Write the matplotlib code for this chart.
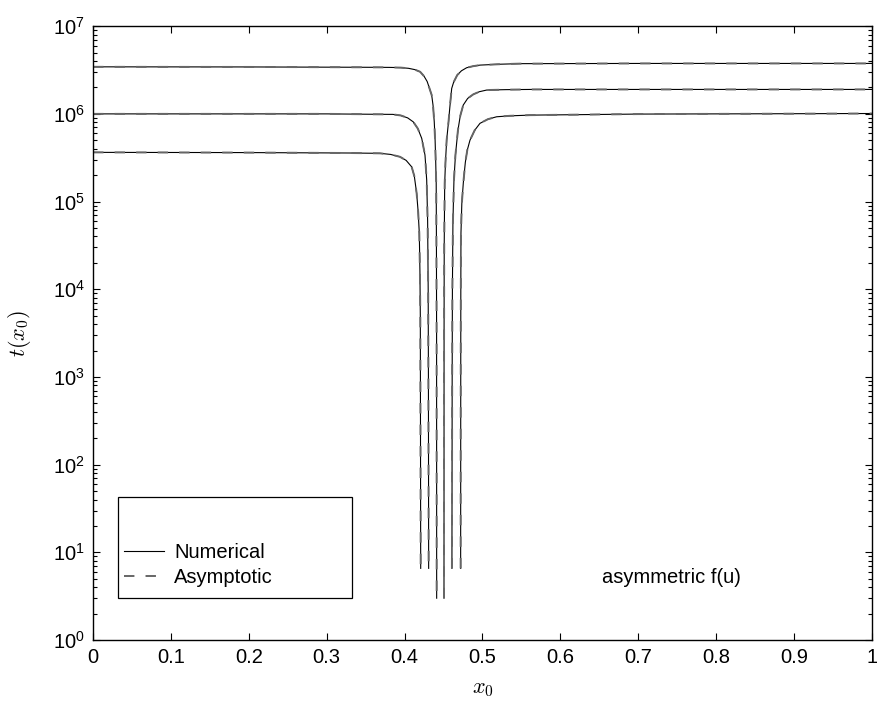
import matplotlib
matplotlib.use('Agg')
import matplotlib.pyplot as plt
from matplotlib.patches import Rectangle
from matplotlib.ticker import LogLocator, FixedLocator, NullFormatter

plt.rcParams['font.family'] = ['Liberation Sans', 'DejaVu Sans']
plt.rcParams['mathtext.fontset'] = 'custom'
plt.rcParams['mathtext.rm'] = 'Liberation Sans'
plt.rcParams['mathtext.it'] = 'Liberation Sans:italic'
plt.rcParams['lines.scale_dashes'] = False

# values, one list pair per branch
# top curve (innermost dip)
x_top_left = [0.0, 0.2, 0.35, 0.38, 0.395, 0.405, 0.413, 0.420, 0.425, 0.429, 0.432, 0.4348,
              0.4365, 0.4381, 0.4392, 0.4400, 0.4406, 0.4409, 0.4411, 0.4412]
t_top_left = [3.44e6, 3.43e6, 3.40e6, 3.39e6, 3.37e6, 3.31e6, 3.20e6, 3.02e6, 2.69e6, 2.34e6,
              1.95e6, 1.64e6, 1.26e6, 8.1e5, 5.0e5, 2.8e5, 1.6e5, 3.2e4, 3.2e3, 3.0]
x_top_right = [0.4506, 0.4507, 0.4509, 0.4515, 0.4525, 0.4540, 0.4564, 0.4585, 0.4605, 0.463,
               0.4676, 0.473, 0.4797, 0.488, 0.4968, 0.52, 0.548, 0.7, 1.0]
t_top_right = [3.0, 3.2e3, 3.2e4, 1.6e5, 2.8e5, 5.0e5, 8.1e5, 1.3e6, 1.95e6, 2.3e6,
               2.77e6, 3.1e6, 3.36e6, 3.50e6, 3.60e6, 3.68e6, 3.74e6, 3.76e6, 3.76e6]

# middle curve
x_mid_left = [0.0, 0.3, 0.36, 0.385, 0.395, 0.404, 0.4112, 0.4170, 0.4220, 0.4262, 0.4284,
              0.4296, 0.4303, 0.4306, 0.4309]
t_mid_left = [1.0e6, 1.0e6, 9.9e5, 9.87e5, 9.6e5, 9.0e5, 8.1e5, 6.8e5, 5.26e5, 3.39e5, 1.76e5,
              6.0e4, 1.0e4, 1.0e3, 6.57]
x_mid_right = [0.4608, 0.4611, 0.4614, 0.4621, 0.4634, 0.4653, 0.4685, 0.4715, 0.4753, 0.481,
               0.4882, 0.496, 0.5054, 0.53, 0.561, 1.0]
t_mid_right = [6.57, 1.0e3, 1.0e4, 6.0e4, 1.76e5, 3.39e5, 6.5e5, 9.5e5, 1.26e6, 1.50e6,
               1.67e6, 1.79e6, 1.87e6, 1.89e6, 1.90e6, 1.90e6]

# bottom curve (outermost dip)
x_bot_left = [0.0, 0.2, 0.33, 0.3684, 0.382, 0.3941, 0.402, 0.4091, 0.4125, 0.4155, 0.4175,
              0.4189, 0.4197, 0.4202, 0.4207]
t_bot_left = [3.64e5, 3.62e5, 3.58e5, 3.55e5, 3.45e5, 3.24e5, 2.95e5, 2.49e5, 1.95e5, 1.24e5,
              7.5e4, 4.34e4, 1.6e4, 4.86e3, 6.57]
x_bot_right = [0.4720, 0.4721, 0.4722, 0.4724, 0.4735, 0.4754, 0.4780, 0.4805, 0.4840, 0.490,
               0.4968, 0.507, 0.5182, 0.535, 0.561, 0.7, 1.0]
t_bot_right = [6.57, 546, 8.0e3, 4.38e4, 9.5e4, 1.63e5, 2.8e5, 3.86e5, 5.02e5, 6.5e5,
               7.8e5, 8.7e5, 9.27e5, 9.5e5, 9.68e5, 9.95e5, 1.01e6]

branches = [
    (x_top_left, t_top_left), (x_top_right, t_top_right),
    (x_mid_left, t_mid_left), (x_mid_right, t_mid_right),
    (x_bot_left, t_bot_left), (x_bot_right, t_bot_right),
]

x_ticks = [0, 0.1, 0.2, 0.3, 0.4, 0.5, 0.6, 0.7, 0.8, 0.9, 1]
x_tick_labels = ['0', '0.1', '0.2', '0.3', '0.4', '0.5', '0.6', '0.7', '0.8', '0.9', '1']

fig = plt.figure(figsize=(8.78, 7.08), dpi=100)
ax = fig.add_axes([0.106, 0.096, 0.887, 0.867])

for i, (xs, ts) in enumerate(branches):
    ax.plot(xs, ts, color='k', lw=0.8, label='Numerical' if i == 0 else None)
for i, (xs, ts) in enumerate(branches):
    ax.plot(xs, ts, color='#666666', lw=1.4, dashes=(7.5, 8),
            label='Asymptotic' if i == 0 else None)

ax.set_yscale('log')
ax.set_xlim(0, 1)
ax.set_ylim(1, 1e7)
ax.xaxis.set_major_locator(FixedLocator(x_ticks))
ax.set_xticklabels(x_tick_labels)
ax.yaxis.set_major_locator(LogLocator(base=10, numticks=10))
ax.yaxis.set_minor_locator(LogLocator(base=10, subs=range(2, 10), numticks=20))
ax.yaxis.set_minor_formatter(NullFormatter())
ax.tick_params(which='both', direction='in', top=True, right=True, labelsize=14.5, width=0.8)
ax.tick_params(which='major', length=5, pad=6)
ax.tick_params(which='minor', length=3)
for s in ax.spines.values():
    s.set_linewidth(1.0)

ax.set_xlabel(r'$x_0$', fontsize=16, math_fontfamily='cm', labelpad=8)
ax.set_ylabel(r'$t(x_0)$', fontsize=16, math_fontfamily='cm', labelpad=14)

ax.text(0.653, 5.2, 'asymmetric f(u)', fontsize=14.5, ha='left', va='center')

# legend frame drawn as a plain box, entries near its lower part
ax.add_patch(Rectangle((0.032, 0.0684), 0.3005, 0.1645, transform=ax.transAxes,
                       fill=True, facecolor='white', edgecolor='k', lw=0.9, zorder=5))
leg = ax.legend(loc='upper left', bbox_to_anchor=(0.032, 0.1685), frameon=False,
                fontsize=14.5, handlelength=2.0, handletextpad=0.5, labelspacing=0.3,
                borderaxespad=0, borderpad=0.3)
leg.set_zorder(6)

fig.savefig('out.png', dpi=100)
